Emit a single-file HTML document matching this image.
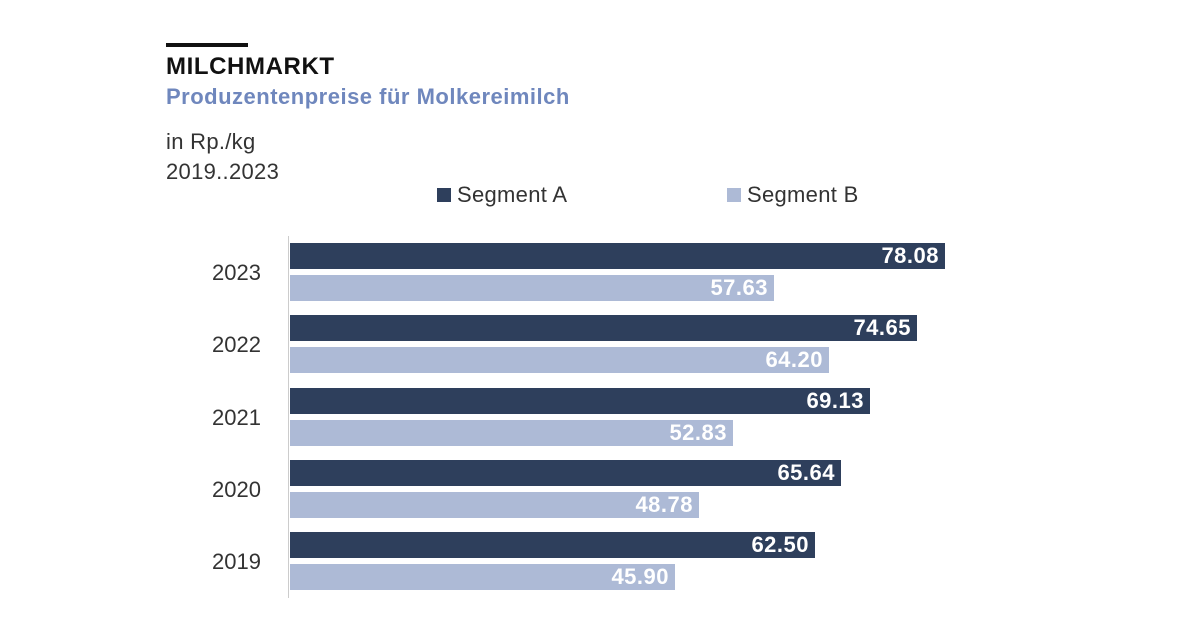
<!DOCTYPE html>
<html><head><meta charset="utf-8"><style>
body{margin:0;width:1194px;height:620px;background:#fff;font-family:"Liberation Sans",sans-serif;position:relative;overflow:hidden}
.a{position:absolute}
.bar{position:absolute;left:290px;height:26px}
.A{background:#2e3f5c}.B{background:#adbad6}
.v{position:absolute;right:6px;top:0;line-height:26px;color:#fff;font-weight:bold;font-size:22px;letter-spacing:0.5px}
.y{position:absolute;left:212px;font-size:22px;color:#333}
</style></head><body>
<div class="a" style="left:166px;top:43px;width:82px;height:4px;background:#111"></div>
<div class="a" style="left:166px;top:53px;font-size:24px;font-weight:bold;color:#111;letter-spacing:0.6px">MILCHMARKT</div>
<div class="a" style="left:166px;top:84px;font-size:22px;font-weight:bold;color:#6f87bd;letter-spacing:0.5px">Produzentenpreise für Molkereimilch</div>
<div class="a" style="left:166px;top:127px;font-size:22px;color:#333;line-height:30px;letter-spacing:0.3px">in Rp./kg<br>2019..2023</div>
<div class="a" style="left:437px;top:182px;font-size:22px;color:#333;letter-spacing:0.3px"><span style="display:inline-block;width:14px;height:14px;background:#2e3f5c;margin-right:6px"></span>Segment A</div>
<div class="a" style="left:727px;top:182px;font-size:22px;color:#333;letter-spacing:0.3px"><span style="display:inline-block;width:14px;height:14px;background:#adbad6;margin-right:6px"></span>Segment B</div>
<div class="a" style="left:288px;top:236px;width:1px;height:362px;background:#ccc"></div>

<div class="bar A" style="top:243px;width:655px"><span class="v">78.08</span></div>
<div class="bar B" style="top:275px;width:484px"><span class="v">57.63</span></div>
<div class="y" style="top:260px">2023</div>

<div class="bar A" style="top:315px;width:627px"><span class="v">74.65</span></div>
<div class="bar B" style="top:347px;width:539px"><span class="v">64.20</span></div>
<div class="y" style="top:332px">2022</div>

<div class="bar A" style="top:388px;width:580px"><span class="v">69.13</span></div>
<div class="bar B" style="top:420px;width:443px"><span class="v">52.83</span></div>
<div class="y" style="top:405px">2021</div>

<div class="bar A" style="top:460px;width:551px"><span class="v">65.64</span></div>
<div class="bar B" style="top:492px;width:409px"><span class="v">48.78</span></div>
<div class="y" style="top:477px">2020</div>

<div class="bar A" style="top:532px;width:525px"><span class="v">62.50</span></div>
<div class="bar B" style="top:564px;width:385px"><span class="v">45.90</span></div>
<div class="y" style="top:549px">2019</div>
</body></html>
